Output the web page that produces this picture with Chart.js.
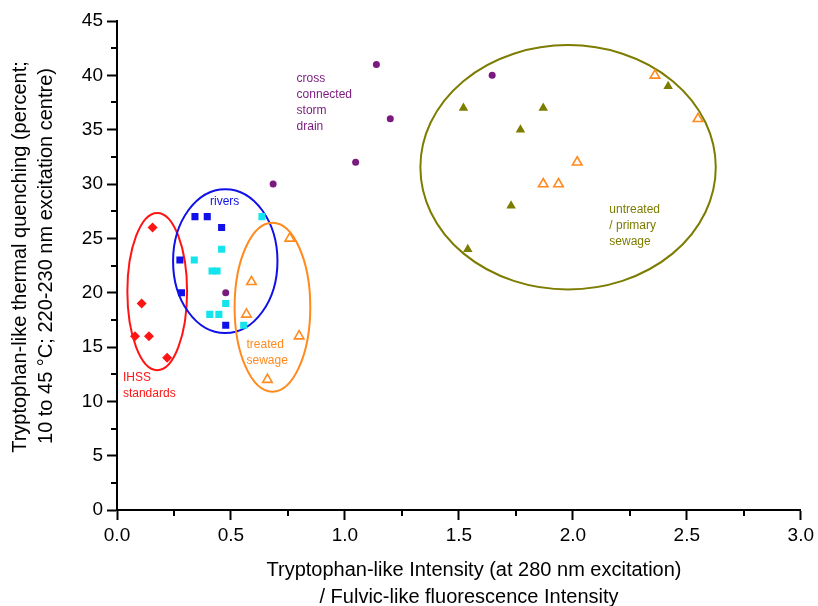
<!DOCTYPE html>
<html lang="en">
<head>
    <meta charset="UTF-8">
    <title>Tryptophan-like thermal quenching</title>
    <script src="https://cdn.jsdelivr.net/npm/chart.js@4.4.1/dist/chart.umd.min.js"></script>
    <style>
        * { margin: 0; padding: 0; box-sizing: border-box; }
        body { background: #ffffff; width: 818px; height: 606px; overflow: hidden; }
        .wrapper { position: relative; width: 818px; height: 606px; }
    </style>
</head>
<body>
    <div class="wrapper">
        <canvas id="chart" width="818" height="606"></canvas>
    </div>
    <script>
        // IHSS standards (red diamonds)
        const ihssX = [0.156, 0.108, 0.079, 0.140, 0.220];
        const ihssY = [26, 19, 16, 16, 14];

        // rivers: dark blue squares and cyan squares
        const riverBlueX = [0.342, 0.396, 0.459, 0.276, 0.283, 0.477];
        const riverBlueY = [27, 27, 26, 23, 20, 17];
        const riverCyanX = [0.636, 0.459, 0.339, 0.417, 0.439, 0.477, 0.407, 0.447, 0.556];
        const riverCyanY = [27, 24, 23, 22, 22, 19, 18, 18, 17];

        // cross connected storm drain (purple circles)
        const stormX = [1.138, 1.199, 1.047, 0.685, 1.646, 0.477];
        const stormY = [41, 36, 32, 30, 40, 20];

        // open orange triangles: treated sewage and the ones inside the primary sewage ellipse
        const treatedX = [0.758, 0.590, 0.568, 0.799, 0.660, 2.360, 2.549, 2.019, 1.870, 1.937];
        const treatedY = [25, 21, 18, 16, 12, 40, 36, 32, 30, 30];

        // untreated / primary sewage (filled olive triangles)
        const untreatedX = [1.520, 1.870, 1.770, 2.418, 1.729, 1.539];
        const untreatedY = [37, 37, 35, 39, 28, 24];

        // group ellipses in data units: centre x, centre y, radius x, radius y
        const ellipseNames = ["ihss", "rivers", "treated", "untreated"];
        const ellipseCx = [0.1765, 0.475, 0.682, 1.979];
        const ellipseCy = [20.1, 22.9, 18.66, 31.54];
        const ellipseRx = [0.131, 0.229, 0.166, 0.648];
        const ellipseRy = [7.24, 6.62, 7.77, 11.24];

        const xTicks = [0, 0.5, 1, 1.5, 2, 2.5, 3];
        const yTicks = [0, 5, 10, 15, 20, 25, 30, 35, 40, 45];

        const colors = {
            ihss: "#ff1414",
            rivers: "#1010e8",
            cyan: "#14e4ec",
            storm: "#7a1a7e",
            treated: "#ff8a1e",
            untreated: "#7c7c00",
        };

        const toPoints = (xs, ys) => xs.map((x, i) => ({ x: x, y: ys[i] }));

        const FONT = "'Liberation Sans', Arial, sans-serif";

        // label texts anchored in data coordinates
        const groupLabels = [
            { lines: ["cross", "connected", "storm", "drain"], x: 0.788, y: 39.66, color: colors.storm },
            { lines: ["rivers"], x: 0.408, y: 28.4, color: colors.rivers },
            { lines: ["treated", "sewage"], x: 0.568, y: 15.18, color: colors.treated },
            { lines: ["IHSS", "standards"], x: 0.026, y: 12.14, color: colors.ihss },
            { lines: ["untreated", "/ primary", "sewage"], x: 2.160, y: 27.6, color: colors.untreated },
        ];

        const extras = {
            id: "extras",
            beforeDatasetsDraw(chart) {
                const { ctx, scales: { x, y } } = chart;
                ctx.save();
                ctx.lineWidth = 2;
                const strokes = [colors.ihss, colors.rivers, colors.treated, colors.untreated];
                for (let i = 0; i < ellipseNames.length; i++) {
                    const cx = x.getPixelForValue(ellipseCx[i]);
                    const cy = y.getPixelForValue(ellipseCy[i]);
                    const rx = Math.abs(x.getPixelForValue(ellipseCx[i] + ellipseRx[i]) - cx);
                    const ry = Math.abs(y.getPixelForValue(ellipseCy[i] + ellipseRy[i]) - cy);
                    ctx.strokeStyle = strokes[i];
                    ctx.beginPath();
                    ctx.ellipse(cx, cy, rx, ry, 0, 0, Math.PI * 2);
                    ctx.stroke();
                }
                ctx.restore();
            },
            afterDraw(chart) {
                const { ctx, chartArea, scales: { x, y } } = chart;
                ctx.save();

                // minor ticks
                ctx.strokeStyle = "#000";
                ctx.lineWidth = 2;
                ctx.beginPath();
                for (let v = 2.5; v < 45; v += 5) {
                    const py = Math.round(y.getPixelForValue(v));
                    ctx.moveTo(chartArea.left - 6, py);
                    ctx.lineTo(chartArea.left, py);
                }
                for (let v = 0.25; v < 3; v += 0.5) {
                    const px = Math.round(x.getPixelForValue(v));
                    ctx.moveTo(px, chartArea.bottom);
                    ctx.lineTo(px, chartArea.bottom + 6);
                }
                ctx.stroke();

                // group labels
                ctx.font = "12px " + FONT;
                ctx.textAlign = "left";
                ctx.textBaseline = "middle";
                for (const lab of groupLabels) {
                    ctx.fillStyle = lab.color;
                    const px = x.getPixelForValue(lab.x);
                    const py = y.getPixelForValue(lab.y);
                    lab.lines.forEach((t, i) => ctx.fillText(t, px, py + i * 16));
                }

                // axis titles
                ctx.fillStyle = "#000";
                ctx.textAlign = "center";
                ctx.font = "20px " + FONT;
                ctx.fillText("Tryptophan-like Intensity (at 280 nm excitation)", 474, 570);
                ctx.fillText("/ Fulvic-like fluorescence Intensity", 469, 597);

                ctx.rotate(-Math.PI / 2);
                ctx.fillText("Tryptophan-like thermal quenching (percent;", -257, 20);
                ctx.fillText("10 to 45 \u00b0C; 220-230 nm excitation centre)", -256, 46);
                ctx.restore();
            },
        };

        const tickFont = { family: FONT, size: 19 };

        new Chart(document.getElementById("chart"), {
            type: "scatter",
            data: {
                datasets: [
                    {
                        label: "IHSS standards",
                        data: toPoints(ihssX, ihssY),
                        pointStyle: "rectRot",
                        pointRadius: 5,
                        backgroundColor: colors.ihss,
                        borderColor: colors.ihss,
                        borderWidth: 0,
                    },
                    {
                        label: "rivers",
                        data: toPoints(riverBlueX, riverBlueY),
                        pointStyle: "rect",
                        pointRadius: 5,
                        backgroundColor: colors.rivers,
                        borderWidth: 0,
                    },
                    {
                        label: "rivers (cyan)",
                        data: toPoints(riverCyanX, riverCyanY),
                        pointStyle: "rect",
                        pointRadius: 5,
                        backgroundColor: colors.cyan,
                        borderWidth: 0,
                    },
                    {
                        label: "cross connected storm drain",
                        data: toPoints(stormX, stormY),
                        pointStyle: "circle",
                        pointRadius: 3.5,
                        backgroundColor: colors.storm,
                        borderWidth: 0,
                    },
                    {
                        label: "treated sewage",
                        data: toPoints(treatedX, treatedY),
                        pointStyle: "triangle",
                        pointRadius: 5.5,
                        backgroundColor: "#ffffff",
                        borderColor: colors.treated,
                        borderWidth: 1.6,
                    },
                    {
                        label: "untreated / primary sewage",
                        data: toPoints(untreatedX, untreatedY),
                        pointStyle: "triangle",
                        pointRadius: 5.5,
                        backgroundColor: colors.untreated,
                        borderColor: colors.untreated,
                        borderWidth: 0,
                    },
                ],
            },
            options: {
                responsive: false,
                animation: false,
                events: [],
                layout: { padding: { left: 0, right: 16, top: 21, bottom: 0 } },
                plugins: {
                    legend: { display: false },
                    tooltip: { enabled: false },
                    title: { display: false },
                },
                scales: {
                    x: {
                        type: "linear",
                        min: 0,
                        max: 3,
                        afterBuildTicks: (s) => { s.ticks = xTicks.map((v) => ({ value: v })); },
                        afterFit: (s) => { s.height = 96; },
                        ticks: {
                            color: "#000",
                            font: tickFont,
                            padding: 4,
                            callback: (v) => Number(v).toFixed(1),
                        },
                        grid: {
                            drawOnChartArea: false,
                            drawTicks: true,
                            tickLength: 10,
                            tickWidth: 2,
                            tickColor: "#000",
                        },
                        border: { display: true, color: "#000", width: 2 },
                    },
                    y: {
                        type: "linear",
                        min: 0,
                        max: 45,
                        afterBuildTicks: (s) => { s.ticks = yTicks.map((v) => ({ value: v })); },
                        afterFit: (s) => { s.width = 117; },
                        ticks: {
                            color: "#000",
                            font: tickFont,
                            padding: 4,
                        },
                        grid: {
                            drawOnChartArea: false,
                            drawTicks: true,
                            tickLength: 10,
                            tickWidth: 2,
                            tickColor: "#000",
                        },
                        border: { display: true, color: "#000", width: 2 },
                    },
                },
            },
            plugins: [extras],
        });
    </script>
</body>
</html>
